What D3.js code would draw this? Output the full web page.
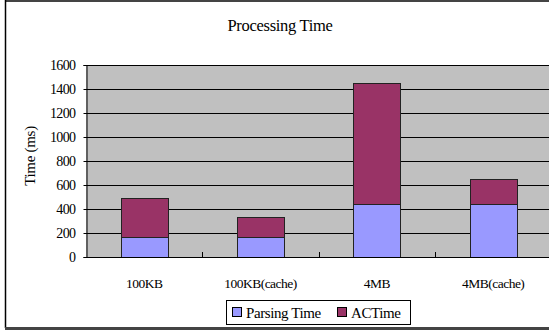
<!DOCTYPE html>
<html><head><meta charset="utf-8">
<script src="https://cdn.jsdelivr.net/npm/d3@7"></script>
<style>html,body{margin:0;padding:0;background:#fff;overflow:hidden}svg{display:block}text{font-family:"Liberation Serif","Times New Roman",serif;fill:#000}</style>
</head><body>
<svg id="c" width="549" height="330"></svg>
<script>
const categories = ["100KB", "100KB(cache)", "4MB", "4MB(cache)"];
const seriesNames = ["Parsing Time", "ACTime"];
const parsingTime = [165, 165, 440, 440];
const acTime = [325, 165, 1010, 210];
const yTicks = [0, 200, 400, 600, 800, 1000, 1200, 1400, 1600];
const colors = ["#9999FF", "#993366"];

(function () {
const svg = d3.select("#c");
const W = 549, H = 330;
svg.append("rect").attr("width", W).attr("height", H).attr("fill", "#fff");

const pLeft = 86, pRight = 551.3, pTop = 65, pBottom = 257;
const x = d3.scaleBand().domain(categories).range([pLeft, pRight]).paddingInner(0.596).paddingOuter(0.298);
const y = d3.scaleLinear().domain([0, 1600]).range([pBottom, pTop]);

// plot background
svg.append("rect").attr("x", pLeft).attr("y", pTop).attr("width", pRight - pLeft).attr("height", pBottom - pTop).attr("fill", "#C0C0C0");

// gridlines
svg.append("g").selectAll("line").data(yTicks.filter(d => d > 0)).join("line")
  .attr("x1", pLeft).attr("x2", pRight).attr("y1", d => Math.round(y(d)) + 0.5).attr("y2", d => Math.round(y(d)) + 0.5)
  .attr("stroke", "#000").attr("stroke-width", 1);

// stacked bars
const table = categories.map((c, i) => ({cat: c, "Parsing Time": parsingTime[i], "ACTime": acTime[i]}));
const stack = d3.stack().keys(seriesNames)(table);
svg.append("g").selectAll("g").data(stack).join("g").attr("fill", (d, i) => colors[i])
  .selectAll("rect").data(d => d).join("rect")
  .attr("x", d => Math.round(x(d.data.cat)) + 0.5)
  .attr("y", d => Math.round(y(d[1])) + 0.5)
  .attr("width", Math.round(x.bandwidth()))
  .attr("height", d => Math.round(y(d[0])) - Math.round(y(d[1])))
  .attr("stroke", "#222").attr("stroke-width", 1);

// y axis
const yAxis = d3.axisLeft(y).tickValues(yTicks).tickSize(3).tickPadding(8).tickFormat(d3.format("d"));
const gy = svg.append("g").attr("transform", `translate(${pLeft + 0.5},0)`).call(yAxis);
gy.select(".domain").attr("stroke", "#000");
gy.selectAll(".tick line").attr("stroke", "#000");
gy.selectAll("text").attr("font-size", "14px").style("letter-spacing", "-0.6px");

// x axis
const xAxis = d3.axisBottom(x).tickSize(0).tickPadding(21);
const gx = svg.append("g").attr("transform", `translate(0,${pBottom + 0.5})`).call(xAxis);
gx.select(".domain").remove();
gx.selectAll("text").attr("font-size", "13.5px").style("letter-spacing", "-0.5px");
svg.append("line").attr("x1", pLeft).attr("x2", pRight).attr("y1", pBottom + 0.5).attr("y2", pBottom + 0.5).attr("stroke", "#000");
// category divider ticks
svg.append("g").selectAll("line").data(categories.slice(1)).join("line")
  .attr("x1", d => Math.round(x(d) - x.step() * x.paddingInner() / 2) + 0.5)
  .attr("x2", d => Math.round(x(d) - x.step() * x.paddingInner() / 2) + 0.5)
  .attr("y1", pBottom - 5).attr("y2", pBottom).attr("stroke", "#000");

// title
svg.append("text").attr("x", 280).attr("y", 31).attr("text-anchor", "middle").attr("font-size", "16.5px")
  .style("letter-spacing", "-0.3px").text("Processing Time");

// y title
svg.append("text").attr("transform", "translate(35,156) rotate(-90)").attr("text-anchor", "middle")
  .attr("font-size", "15px").style("letter-spacing", "-0.3px").text("Time (ms)");

// legend
const lg = svg.append("g");
lg.append("rect").attr("x", 226.5).attr("y", 300.5).attr("width", 184).attr("height", 24).attr("fill", "#fff").attr("stroke", "#000");
const items = [{name: seriesNames[0], c: colors[0], sx: 232, tx: 246}, {name: seriesNames[1], c: colors[1], sx: 337, tx: 351}];
items.forEach(it => {
  lg.append("rect").attr("x", it.sx + 0.5).attr("y", 307.5).attr("width", 9).attr("height", 9).attr("fill", it.c).attr("stroke", "#000");
  lg.append("text").attr("x", it.tx).attr("y", 318).attr("font-size", "15px").style("letter-spacing", "-0.4px").text(it.name);
});

// outer frame
svg.append("line").attr("x1", 5).attr("x2", W).attr("y1", 1).attr("y2", 1).attr("stroke", "#444").attr("stroke-width", 2);
svg.append("line").attr("x1", 5.5).attr("x2", 5.5).attr("y1", 0).attr("y2", 328).attr("stroke", "#000").attr("stroke-width", 1.5);
svg.append("line").attr("x1", 5).attr("x2", W).attr("y1", 328.5).attr("y2", 328.5).attr("stroke", "#444").attr("stroke-width", 3);
})();
</script>
</body></html>
